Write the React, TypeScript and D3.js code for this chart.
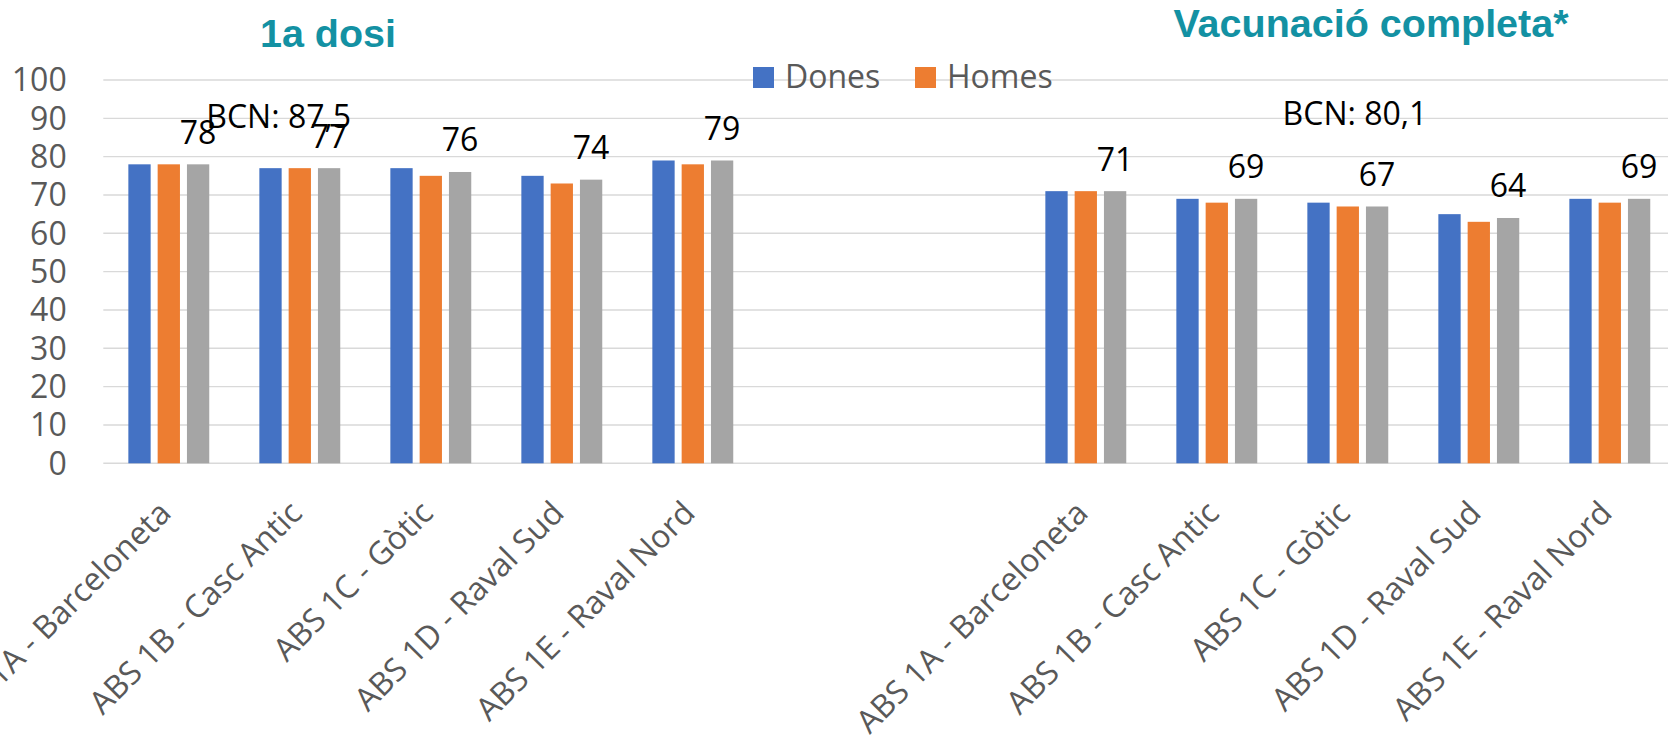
import React from "react";
import * as d3 from "d3";

// ---- Data ----
const categories = [
  "ABS 1A - Barceloneta",
  "ABS 1B - Casc Antic",
  "ABS 1C - Gòtic",
  "ABS 1D - Raval Sud",
  "ABS 1E - Raval Nord",
];
const panelTitles = ["1a dosi", "Vacunació completa*"];
const bcnLabels = ["BCN: 87,5", "BCN: 80,1"];
const seriesNames = ["Dones", "Homes", "Total"];
const legendNames = ["Dones", "Homes"];

const donesDose1 = [78, 77, 77, 75, 79];
const homesDose1 = [78, 77, 75, 73, 78];
const totalDose1 = [78, 77, 76, 74, 79];

const donesFull = [71, 69, 68, 65, 69];
const homesFull = [71, 68, 67, 63, 68];
const totalFull = [71, 69, 67, 64, 69];

const yTicks = [0, 10, 20, 30, 40, 50, 60, 70, 80, 90, 100];

// ---- Styles / layout ----
const W = 1668;
const H = 736;
const COLORS: Record<string, string> = {
  Dones: "#4472C4",
  Homes: "#ED7D31",
  Total: "#A5A5A5",
};
const TITLE_COLOR = "#1391a3";
const AXIS_TEXT = "#595959";
const GRID = "#d9d9d9";
const FONT = "'Open Sans', 'Noto Sans', sans-serif";
const TITLE_FONT = "'Liberation Sans', Arial, sans-serif";
const FS = 32;

const plotLeft = 103.3;
const step = 131;
const yTop = 80;
const yBottom = 463.3;

const panels = [
  { key: "d1", title: panelTitles[0], bcn: bcnLabels[0], series: [donesDose1, homesDose1, totalDose1] },
  { key: "full", title: panelTitles[1], bcn: bcnLabels[1], series: [donesFull, homesFull, totalFull] },
];

const slots = [
  ...categories.map((c) => `d1|${c}`),
  "gap|1",
  "gap|2",
  ...categories.map((c) => `full|${c}`),
];

export default function App() {
  const x = d3
    .scaleBand<string>()
    .domain(slots)
    .range([plotLeft, plotLeft + slots.length * step])
    .padding(0);
  const bw = x.bandwidth();
  const groupW = 80.9;
  const inner = d3
    .scaleBand<string>()
    .domain(seriesNames)
    .range([(bw - groupW) / 2, (bw + groupW) / 2])
    .paddingInner(0.239)
    .paddingOuter(0);
  const y = d3.scaleLinear().domain([0, 100]).range([yBottom, yTop]);

  const titlePos = [
    { x: 328, y: 46.5 },
    { x: 1371, y: 37 },
  ];
  const bcnPos = [
    { x: 278.7, y: 128.3 },
    { x: 1355, y: 125 },
  ];

  return (
    <svg
      width={W}
      height={H}
      style={{ position: "absolute", left: 0, top: 0, background: "#fff" }}
    >
      <rect x={0} y={0} width={W} height={H} fill="#fff" />
      {/* gridlines */}
      {yTicks.map((t) => (
        <line
          key={`g${t}`}
          x1={plotLeft}
          x2={W}
          y1={y(t)}
          y2={y(t)}
          stroke={GRID}
          strokeWidth={1.4}
        />
      ))}
      {/* y tick labels */}
      {yTicks.map((t) => (
        <text
          key={`t${t}`}
          x={66.7}
          y={y(t)}
          dy="0.357em"
          textAnchor="end"
          fontFamily={FONT}
          fontSize={FS}
          fill={AXIS_TEXT}
        >
          {t}
        </text>
      ))}
      {/* bars */}
      {panels.map((p) =>
        categories.map((c, i) => {
          const gx = x(`${p.key}|${c}`)!;
          return (
            <g key={`${p.key}-${c}`}>
              {seriesNames.map((s, si) => {
                const v = p.series[si][i];
                return (
                  <rect
                    key={s}
                    x={gx + inner(s)!}
                    y={y(v)}
                    width={inner.bandwidth()}
                    height={y(0) - y(v)}
                    fill={COLORS[s]}
                  />
                );
              })}
              <text
                x={gx + inner("Total")! + inner.bandwidth() / 2}
                y={y(p.series[2][i]) - 20.5}
                textAnchor="middle"
                fontFamily={FONT}
                fontSize={FS}
                fill="#000"
              >
                {p.series[2][i]}
              </text>
            </g>
          );
        })
      )}
      {/* category labels */}
      {panels.map((p) =>
        categories.map((c) => {
          const cx = x(`${p.key}|${c}`)! + bw / 2;
          return (
            <text
              key={`l-${p.key}-${c}`}
              transform={`translate(${cx + 4},${515}) rotate(-45)`}
              textAnchor="end"
              fontFamily={FONT}
              fontSize={FS}
              fill={AXIS_TEXT}
            >
              {c}
            </text>
          );
        })
      )}
      {/* panel titles */}
      {panels.map((p, i) => (
        <text
          key={`title-${p.key}`}
          x={titlePos[i].x}
          y={titlePos[i].y}
          textAnchor="middle"
          fontFamily={TITLE_FONT}
          fontWeight="bold"
          fontSize={39.5}
          fill={TITLE_COLOR}
        >
          {p.title}
        </text>
      ))}
      {/* BCN annotations */}
      {panels.map((p, i) => (
        <text
          key={`bcn-${p.key}`}
          x={bcnPos[i].x}
          y={bcnPos[i].y}
          textAnchor="middle"
          fontFamily={FONT}
          fontSize={FS}
          fill="#000"
        >
          {p.bcn}
        </text>
      ))}
      {/* legend */}
      {legendNames.map((n, i) => {
        const lx = [753, 915][i];
        return (
          <g key={`leg-${n}`}>
            <rect x={lx} y={67} width={21} height={21} fill={COLORS[n]} />
            <text
              x={lx + 32}
              y={88}
              fontFamily={FONT}
              fontSize={FS}
              fill={AXIS_TEXT}
            >
              {n}
            </text>
          </g>
        );
      })}
    </svg>
  );
}
